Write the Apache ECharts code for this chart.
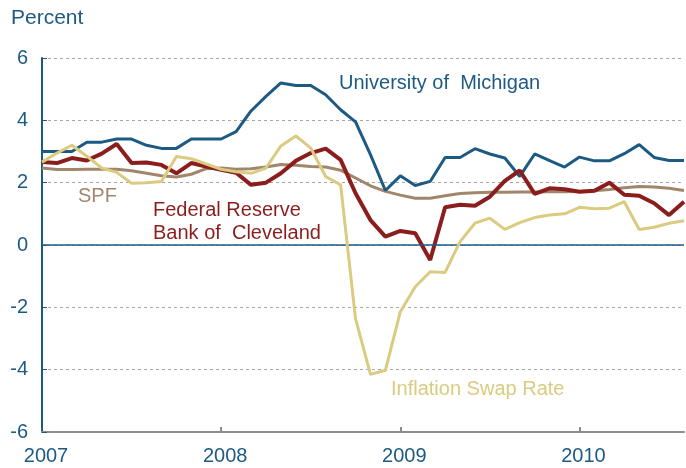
<!DOCTYPE html>
<html>
<head>
<meta charset="utf-8">
<script src="https://cdn.jsdelivr.net/npm/echarts@6/dist/echarts.min.js"></script>
<style>
html,body{margin:0;padding:0;background:#fff;}
#chart{width:686px;height:468px;}
</style>
</head>
<body>
<div id="chart"></div>
<script>
// Monthly observations, Jan 2007 - Aug 2010
const months = [
  '2007-01','2007-02','2007-03','2007-04','2007-05','2007-06','2007-07','2007-08','2007-09','2007-10','2007-11','2007-12',
  '2008-01','2008-02','2008-03','2008-04','2008-05','2008-06','2008-07','2008-08','2008-09','2008-10','2008-11','2008-12',
  '2009-01','2009-02','2009-03','2009-04','2009-05','2009-06','2009-07','2009-08','2009-09','2009-10','2009-11','2009-12',
  '2010-01','2010-02','2010-03','2010-04','2010-05','2010-06','2010-07','2010-08'
];
const michigan = [3.0,3.0,3.0,3.3,3.3,3.4,3.4,3.2,3.1,3.1,3.4,3.4,
  3.4,3.64,4.3,4.77,5.2,5.12,5.12,4.82,4.34,3.95,2.9,1.75,
  2.22,1.91,2.04,2.81,2.81,3.09,2.92,2.79,2.2,2.92,2.71,2.5,
  2.82,2.7,2.7,2.93,3.22,2.81,2.71,2.71];
const clevelandFed = [2.66,2.63,2.79,2.71,2.93,3.24,2.63,2.65,2.57,2.3,2.63,2.52,
  2.41,2.32,1.93,2.0,2.3,2.7,2.95,3.09,2.73,1.66,0.8,0.27,
  0.45,0.38,-0.48,1.21,1.29,1.26,1.55,2.06,2.39,1.64,1.82,1.79,
  1.71,1.74,2.0,1.61,1.58,1.34,0.96,1.39];
const spf = [2.47,2.42,2.42,2.43,2.43,2.43,2.38,2.3,2.22,2.18,2.27,2.45,
  2.47,2.43,2.45,2.5,2.58,2.56,2.52,2.5,2.4,2.15,1.9,1.72,
  1.6,1.5,1.5,1.58,1.65,1.68,1.69,1.69,1.7,1.7,1.71,1.71,
  1.72,1.74,1.78,1.84,1.88,1.86,1.82,1.75];
const swapRate = [2.66,2.95,3.2,2.85,2.47,2.33,1.98,2.0,2.04,2.84,2.77,2.6,
  2.43,2.35,2.3,2.47,3.18,3.5,3.11,2.2,1.93,-2.36,-4.15,-4.02,
  -2.14,-1.34,-0.86,-0.88,0.11,0.7,0.86,0.5,0.72,0.88,0.96,1.0,
  1.21,1.16,1.18,1.39,0.5,0.57,0.7,0.78];
const yTicks = {min: -6, max: 6, interval: 2};

const BLUE = '#1d5a83', RED = '#8b1d1d', TAN = '#a0866b', YEL = '#dacb80';
const FONT = '"Liberation Sans", Arial, sans-serif';
const isJan = (v) => String(v).endsWith('-01');

const chart = echarts.init(document.getElementById('chart'), null, {renderer: 'canvas'});
chart.setOption({
  animation: false,
  backgroundColor: '#fff',
  grid: {left: 42, right: 2, top: 58, bottom: 36, containLabel: false},
  xAxis: {
    type: 'category',
    data: months,
    boundaryGap: false,
    axisLine: {onZero: false, lineStyle: {color: '#8c8c8c', width: 2}},
    axisTick: {inside: true, length: 5, lineStyle: {color: '#8c8c8c', width: 2},
      interval: (i, v) => isJan(v) && i > 0},
    axisLabel: {interval: (i, v) => isJan(v), formatter: (v) => v.slice(0, 4),
      color: BLUE, fontSize: 20, fontFamily: FONT, margin: 14, padding: [0, 0, 0, 8]},
    splitLine: {show: false}
  },
  yAxis: {
    type: 'value',
    min: yTicks.min, max: yTicks.max, interval: yTicks.interval,
    axisLine: {show: true, lineStyle: {color: BLUE, width: 2}},
    axisTick: {show: true, inside: true, length: 5, lineStyle: {color: BLUE, width: 1}},
    axisLabel: {color: BLUE, fontSize: 20, fontFamily: FONT, margin: 14},
    splitLine: {show: true, lineStyle: {color: '#a6a6a6', width: 1, type: [3, 3]}}
  },
  series: [
    {name: 'SPF', type: 'line', data: spf, showSymbol: false, symbol: 'none',
      lineStyle: {color: TAN, width: 3}, z: 2,
      markLine: {silent: true, symbol: 'none', label: {show: false},
        lineStyle: {color: BLUE, width: 1.5, type: 'solid'}, data: [{yAxis: 0}]}},
    {name: 'University of Michigan', type: 'line', data: michigan, symbol: 'none',
      lineStyle: {color: BLUE, width: 3}, z: 3},
    {name: 'Federal Reserve Bank of Cleveland', type: 'line', data: clevelandFed, symbol: 'none',
      lineStyle: {color: RED, width: 4}, z: 4},
    {name: 'Inflation Swap Rate', type: 'line', data: swapRate, symbol: 'none',
      lineStyle: {color: YEL, width: 3}, z: 5}
  ],
  graphic: [
    {type: 'text', left: 11, top: 8, style: {text: 'Percent', fill: BLUE, font: '21px ' + FONT}},
    {type: 'text', left: 339, top: 73, style: {text: 'University of  Michigan', fill: BLUE, font: '20px ' + FONT}},
    {type: 'text', left: 78, top: 186, style: {text: 'SPF', fill: TAN, font: '20px ' + FONT}},
    {type: 'text', left: 153, top: 199, style: {text: 'Federal Reserve\nBank of  Cleveland', fill: RED, font: '20px ' + FONT, lineHeight: 23}},
    {type: 'text', left: 391, top: 379, style: {text: 'Inflation Swap Rate', fill: YEL, font: '20px ' + FONT}}
  ]
});
</script>
</body>
</html>
